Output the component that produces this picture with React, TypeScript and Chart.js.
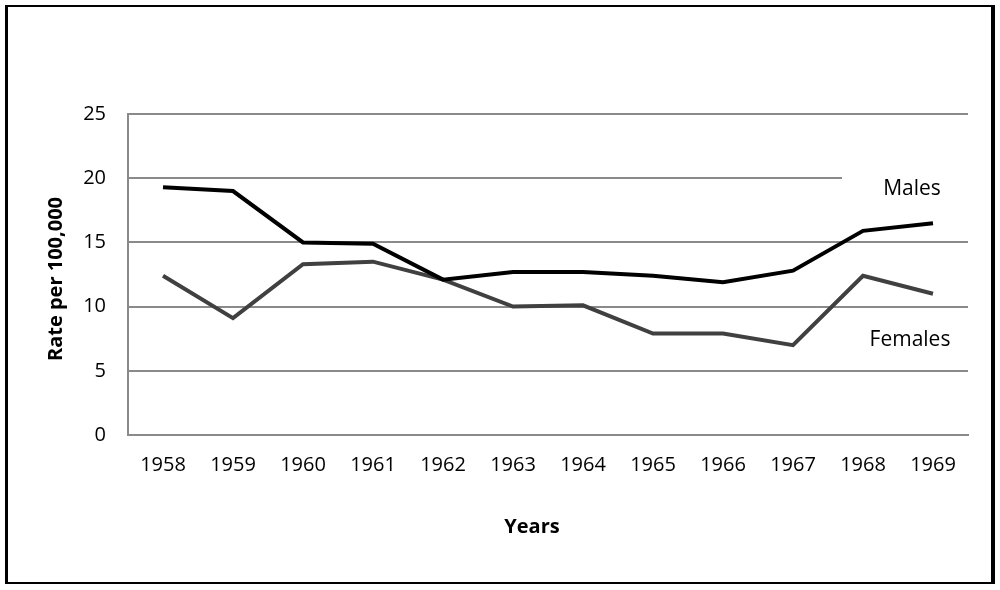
import React, { useEffect, useRef } from "react";
import { Chart, registerables } from "chart.js";

Chart.register(...registerables);

const years = ["1958", "1959", "1960", "1961", "1962", "1963", "1964", "1965", "1966", "1967", "1968", "1969"];
const males = [19.3, 19.0, 15.0, 14.9, 12.1, 12.7, 12.7, 12.4, 11.9, 12.8, 15.9, 16.5];
const females = [12.4, 9.1, 13.3, 13.5, 12.1, 10.0, 10.1, 7.9, 7.9, 7.0, 12.4, 11.0];
const yMin = 0;
const yMax = 25;
const yStep = 5;
const yTitle = "Rate per 100,000";
const xTitle = "Years";
const malesLabel = "Males";
const femalesLabel = "Females";

const FONT = "'Open Sans', 'Noto Sans', sans-serif";
const GRID = "#8a8a8a";

const textPlugin = {
  id: "textPlugin",
  beforeDatasetsDraw(chart: any) {
    const ctx = chart.ctx;
    ctx.save();
    // white box behind the "Males" label (hides part of the gridline)
    ctx.fillStyle = "#ffffff";
    ctx.fillRect(842, 168, 130, 36);
    ctx.fillStyle = "#000000";
    ctx.font = `21px ${FONT}`;
    ctx.textAlign = "center";
    ctx.textBaseline = "alphabetic";
    ctx.fillText(malesLabel, 912, 195);
    ctx.fillText(femalesLabel, 910, 346);
    ctx.restore();
  },
  afterDraw(chart: any) {
    const ctx = chart.ctx;
    ctx.save();
    ctx.fillStyle = "#000000";
    ctx.font = `bold 20px ${FONT}`;
    ctx.textAlign = "center";
    ctx.textBaseline = "alphabetic";
    ctx.fillText(xTitle, 532, 533);
    ctx.translate(62, 279);
    ctx.rotate(-Math.PI / 2);
    ctx.fillText(yTitle, 0, 0);
    ctx.restore();
  },
};

export default function App() {
  const ref = useRef<HTMLCanvasElement | null>(null);

  useEffect(() => {
    if (!ref.current) return;
    const chart = new Chart(ref.current, {
      type: "line",
      data: {
        labels: years,
        datasets: [
          {
            label: malesLabel,
            data: males,
            borderColor: "#000000",
            backgroundColor: "#000000",
            borderWidth: 4,
            pointRadius: 0,
            tension: 0,
            fill: false,
          },
          {
            label: femalesLabel,
            data: females,
            borderColor: "#404040",
            backgroundColor: "#404040",
            borderWidth: 4,
            pointRadius: 0,
            tension: 0,
            fill: false,
          },
        ],
      },
      options: {
        responsive: false,
        maintainAspectRatio: false,
        animation: false,
        layout: { padding: { left: 0, top: 114, right: 32, bottom: 0 } },
        plugins: {
          legend: { display: false },
          tooltip: { enabled: false },
          title: { display: false },
        },
        scales: {
          x: {
            offset: true,
            grid: { display: false, drawTicks: false },
            border: { display: true, color: GRID, width: 2 },
            ticks: {
              color: "#000000",
              font: { family: FONT, size: 20 },
              padding: 18,
              maxRotation: 0,
              autoSkip: false,
            },
            afterFit(scale: any) {
              scale.height = 155;
            },
          },
          y: {
            min: yMin,
            max: yMax,
            grid: { color: GRID, lineWidth: 2, drawTicks: false },
            border: { display: true, color: GRID, width: 2 },
            ticks: {
              stepSize: yStep,
              color: "#000000",
              font: { family: FONT, size: 20 },
              padding: 22,
            },
            afterFit(scale: any) {
              scale.width = 128;
            },
          },
        },
      },
      plugins: [textPlugin],
    });
    return () => chart.destroy();
  }, []);

  return (
    <div style={{ position: "fixed", left: 0, top: 0, width: 1000, height: 590, background: "#ffffff" }}>
      <canvas ref={ref} width={1000} height={590} style={{ position: "absolute", left: 0, top: 0 }} />
      <div
        style={{
          position: "absolute",
          left: 5,
          top: 5,
          width: 990,
          height: 579,
          boxSizing: "border-box",
          borderLeft: "3px solid #000",
          borderTop: "2px solid #000",
          borderRight: "4px solid #000",
          borderBottom: "2px solid #000",
          pointerEvents: "none",
        }}
      />
    </div>
  );
}
